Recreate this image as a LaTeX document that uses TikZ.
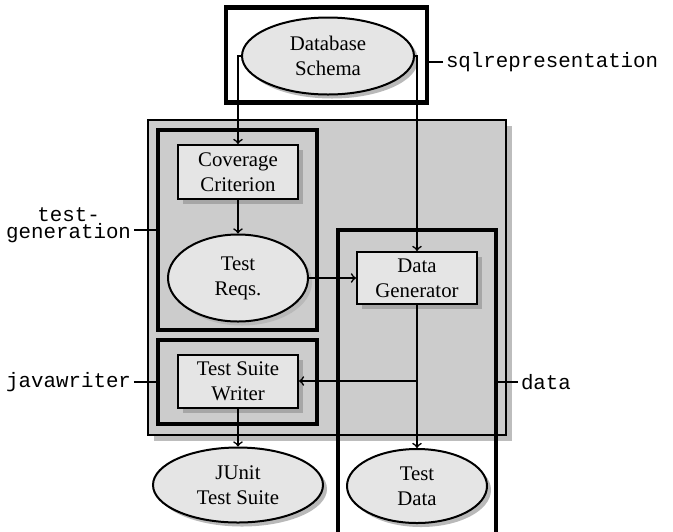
\documentclass[tikz,border=0pt]{standalone}
\usepackage{fontspec}
\setmainfont{Liberation Serif}
\setmonofont{Liberation Mono}
\usetikzlibrary{shapes, shadows, positioning}

\begin{document}
\begin{tikzpicture}[x=0.5pt, y=-0.5pt, >=to, line width=0.8pt,
  font=\fontsize{10.4}{12.5}\selectfont,
  comp/.style={rectangle, draw, line width=1pt, fill=gray!20, align=center, inner sep=0pt,
    drop shadow={shadow xshift=2.5pt, shadow yshift=-2.5pt, fill=gray!70, opacity=1}},
  artifact/.style={ellipse, draw, line width=1pt, fill=gray!20, align=center, inner sep=0pt,
    drop shadow={shadow xshift=2pt, shadow yshift=-2pt, fill=gray!55, opacity=1}},
  module/.style={rectangle, draw, line width=2.2pt, inner sep=0pt},
  modlabel/.style={font=\ttfamily\fontsize{10.4}{7.4}\selectfont, align=center, inner sep=1pt}]

\useasboundingbox (0,0) rectangle (673,531);

\node [rectangle, draw, line width=1pt, fill=gray!40, minimum width=179pt, minimum height=157.5pt,
  drop shadow={shadow xshift=3pt, shadow yshift=-3pt, fill=gray!52, opacity=1}] (core) at (327,277.5) {};
\node [module, minimum width=79.5pt, minimum height=100pt] (tgbox) at (237.5,230) {};
\node [module, minimum width=79.5pt, minimum height=42pt] (jwbox) at (237.5,382) {};
\node [module, minimum width=79pt, minimum height=152pt] (databox) at (417,382) {};
\node [module, minimum width=100.5pt, minimum height=47.5pt] (sqlbox) at (326.5,55) {};

\node [artifact, minimum width=86pt, minimum height=38.5pt] (db) at (328,56) {Database\\Schema};
\node [comp, minimum width=60pt, minimum height=27pt] (cov) at (238,172) {Coverage\\Criterion};
\node [artifact, minimum width=70pt, minimum height=43.5pt] (reqs) at (238,278) {Test\\Reqs.};
\node [comp, minimum width=60pt, minimum height=26pt] (gen) at (417,278) {Data\\Generator};
\node [comp, minimum width=60pt, minimum height=26.5pt] (tsw) at (238,381) {Test Suite\\Writer};
\node [artifact, minimum width=85pt, minimum height=37.5pt] (junit) at (238,485) {JUnit\\Test Suite};
\node [artifact, minimum width=70pt, minimum height=37pt] (tdata) at (417,486) {Test\\Data};

\node [modlabel, right=7pt of sqlbox, yshift=-3.5pt] (sqllabel) {sqlrepresentation};
\node [modlabel, left=11pt of tgbox, yshift=2.5pt] (tglabel) {test-\\generation};
\node [modlabel, left=11pt of jwbox] (jwlabel) {javawriter};
\node [modlabel, right=10pt of databox] (datalabel) {data};

\draw (sqllabel.west) -- (sqllabel.west -| sqlbox.east);
\draw (tgbox.west) -- (tgbox.west -| tglabel.east);
\draw (jwlabel.east) -- (jwbox.west);
\draw (databox.east) -- (datalabel.west);

\draw [->] (db.west) -| (cov.north);
\draw [->] (db.east) -| (gen.north);
\draw [->] (cov) -- (reqs);
\draw [->] (reqs) -- (gen);
\draw [->] (gen) -- (tdata);
\coordinate (split) at (gen |- tsw);
\draw [->] (split) -- (tsw);
\draw [->] (tsw) -- (junit);

\end{tikzpicture}
\end{document}
